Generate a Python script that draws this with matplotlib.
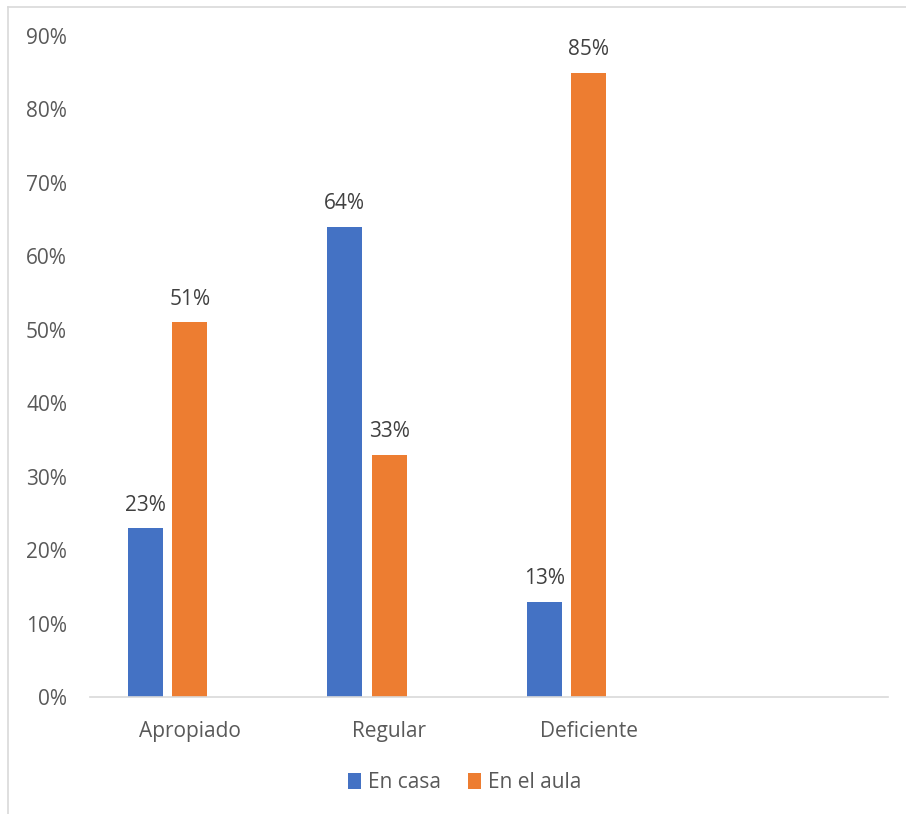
import matplotlib
matplotlib.use("Agg")
import matplotlib.pyplot as plt
from matplotlib.lines import Line2D
import numpy as np

categories = ["Apropiado", "Regular", "Deficiente", ""]
en_casa = [0.23, 0.64, 0.13, None]
en_aula = [0.51, 0.33, 0.85, None]
series_names = ["En casa", "En el aula"]
yticks = [0, 0.1, 0.2, 0.3, 0.4, 0.5, 0.6, 0.7, 0.8, 0.9]
ytick_labels = ["0%", "10%", "20%", "30%", "40%", "50%", "60%", "70%", "80%", "90%"]

BLUE = "#4472C4"
ORANGE = "#ED7D31"
GRAY = "#595959"
FONT = ["Open Sans", "DejaVu Sans"]
plt.rcParams["font.family"] = FONT
FS = 15

W, H = 906, 814
fig = plt.figure(figsize=(W / 100, H / 100), dpi=100)
ax = fig.add_axes([90 / W, (H - 697) / H, (888 - 90) / W, (697 - 36) / H])

x = np.arange(len(categories))
bw = 35 / 199.5
off = 44.5 / 199.5

def clean(v):
    return [np.nan if a is None else a for a in v]

b1 = ax.bar(x - off, clean(en_casa), width=bw, color=BLUE, label=series_names[0])
b2 = ax.bar(x, clean(en_aula), width=bw, color=ORANGE, label=series_names[1])

for bars, vals in ((b1, en_casa), (b2, en_aula)):
    for rect, v in zip(bars, vals):
        if v is None:
            continue
        ax.annotate(f"{round(v*100)}%", (rect.get_x() + rect.get_width() / 2, v),
                    xytext=(0, 9), textcoords="offset points", ha="center", va="bottom",
                    fontsize=FS, color="#404040")

ax.set_xlim(-0.5, len(categories) - 0.5)
ax.set_ylim(0, 0.9)
ax.set_yticks(yticks)
ax.set_yticklabels(ytick_labels)
ax.set_xticks(x)
ax.set_xticklabels(categories)
ax.tick_params(axis="both", length=0, labelsize=FS, colors=GRAY)
ax.tick_params(axis="y", pad=16.5)
ax.tick_params(axis="x", pad=17.5)
for s in ("top", "right", "left"):
    ax.spines[s].set_visible(False)
ax.spines["bottom"].set_color("#D9D9D9")
ax.spines["bottom"].set_linewidth(1.2)

fig.legend(handles=[b1, b2], labels=series_names, loc="center", bbox_to_anchor=(465 / W, 1 - 783 / H),
           ncol=2, frameon=False, fontsize=FS, labelcolor=GRAY, handlelength=0.6, handleheight=0.8,
           handletextpad=0.35, columnspacing=1.3)

fig.add_artist(Line2D([8 / W, 8 / W], [0, 1 - 7 / H], transform=fig.transFigure, color="#D9D9D9", lw=1.2))
fig.add_artist(Line2D([8 / W, 1], [1 - 7 / H, 1 - 7 / H], transform=fig.transFigure, color="#D9D9D9", lw=1.2))

fig.savefig("out.png", dpi=100, facecolor="white")
